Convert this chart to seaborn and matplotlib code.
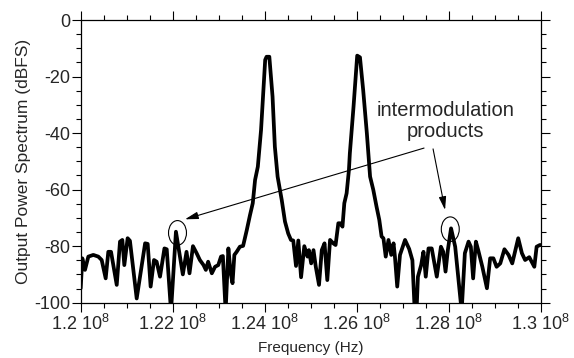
import matplotlib
matplotlib.use("Agg")
import matplotlib.pyplot as plt
import seaborn as sns
import numpy as np
import pandas as pd
from matplotlib.patches import Ellipse

# ---- data (frequency in MHz, power in dBFS) ----
freq_mhz = [
    120.000, 120.035, 120.093, 120.166, 120.274, 120.383, 120.456, 120.543, 120.600, 120.659,
    120.783, 120.854, 120.905, 120.948, 121.020, 121.070, 121.217, 121.400, 121.456, 121.520,
    121.593, 121.650, 121.724, 121.820, 121.870, 121.963, 122.070, 122.220, 122.300, 122.365,
    122.440, 122.520, 122.590, 122.670, 122.720, 122.770, 122.850, 122.920, 122.990, 123.050,
    123.090, 123.150, 123.210, 123.260, 123.300, 123.340, 123.390, 123.460, 123.530, 123.610,
    123.680, 123.740, 123.790, 123.850, 123.920, 124.010, 124.040, 124.100, 124.170, 124.220,
    124.280, 124.370, 124.440, 124.510, 124.570, 124.620, 124.680, 124.730, 124.790, 124.860,
    124.930, 124.960, 125.010, 125.060, 125.110, 125.180, 125.240, 125.300, 125.360, 125.420,
    125.490, 125.540, 125.600, 125.650, 125.690, 125.730, 125.780, 125.830, 125.850, 125.930,
    126.010, 126.070, 126.140, 126.220, 126.290, 126.360, 126.430, 126.490, 126.540, 126.580,
    126.630, 126.690, 126.750, 126.800, 126.830, 126.880, 126.940, 127.050, 127.140, 127.210,
    127.260, 127.300, 127.330, 127.400, 127.450, 127.500, 127.560, 127.630, 127.740, 127.830,
    127.880, 127.930, 127.980, 128.050, 128.140, 128.280, 128.350, 128.430, 128.480, 128.530,
    128.590, 128.640, 128.730, 128.830, 128.900, 128.970, 129.040, 129.120, 129.210, 129.300,
    129.380, 129.510, 129.590, 129.660, 129.750, 129.860, 129.910, 129.980, 130.000,
]
power_dbfs = [
    -94.9, -84.3, -88.4, -83.7, -83.1, -83.7, -84.9, -91.4, -82.0, -82.0,
    -93.7, -78.4, -77.8, -86.7, -77.2, -78.1, -98.5, -79.0, -79.2, -94.3,
    -84.9, -85.5, -90.8, -80.8, -81.1, -103.0, -74.9, -90.0, -82.0, -89.6,
    -80.0, -82.5, -84.9, -86.7, -88.4, -85.5, -89.6, -87.3, -86.7, -83.7,
    -83.5, -103.0, -80.8, -89.6, -93.1, -83.1, -82.0, -80.2, -79.9, -74.3,
    -69.0, -64.8, -56.6, -51.9, -38.9, -14.1, -13.0, -13.0, -27.1, -44.8,
    -55.4, -63.7, -71.3, -75.5, -77.8, -78.0, -87.0, -78.0, -91.0, -80.0,
    -83.7, -81.4, -86.1, -81.4, -87.3, -93.7, -81.4, -79.0, -92.0, -77.8,
    -79.0, -79.6, -71.9, -71.9, -73.1, -64.8, -61.3, -53.1, -47.2, -30.7,
    -12.6, -13.2, -24.8, -40.1, -55.4, -60.1, -66.0, -70.7, -76.6, -77.2,
    -83.7, -77.8, -83.1, -79.0, -83.7, -94.3, -83.1, -77.8, -81.0, -85.0,
    -103.0, -103.0, -90.8, -86.7, -82.0, -90.8, -80.8, -80.8, -90.8, -80.2,
    -82.0, -89.0, -81.4, -73.7, -80.2, -103.0, -82.5, -78.4, -80.2, -91.4,
    -78.4, -81.4, -87.3, -94.9, -84.3, -84.3, -87.3, -86.1, -81.1, -83.1,
    -86.1, -77.2, -82.5, -84.9, -83.9, -87.3, -80.2, -79.6, -79.6,
]

x_ticks_hz = [1.20e8, 1.22e8, 1.24e8, 1.26e8, 1.28e8, 1.30e8]
x_tick_labels = [r"1.2 10$^{8}$", r"1.22 10$^{8}$", r"1.24 10$^{8}$",
                 r"1.26 10$^{8}$", r"1.28 10$^{8}$", r"1.3 10$^{8}$"]
y_ticks = [-100, -80, -60, -40, -20, 0]
y_tick_labels = ["-100", "-80", "-60", "-40", "-20", "0"]

annotation_text = "intermodulation\nproducts"
imd_centers_hz = [1.22104e8, 1.28033e8]
imd_centers_db = [-75.3, -74.0]

df = pd.DataFrame({"freq": np.array(freq_mhz) * 1e6, "power": power_dbfs})

sns.set_style("ticks")
plt.rcParams["font.family"] = ["Liberation Sans", "DejaVu Sans"]
plt.rcParams["mathtext.fontset"] = "custom"
plt.rcParams["mathtext.rm"] = "Liberation Sans"
plt.rcParams["mathtext.it"] = "Liberation Sans"
plt.rcParams["axes.unicode_minus"] = False

fig = plt.figure(figsize=(5.74, 3.58), dpi=100)
ax = fig.add_axes([0.1406, 0.1545, 0.8015, 0.7896])

sns.lineplot(data=df, x="freq", y="power", color="black", linewidth=2.7,
             ax=ax, sort=False, estimator=None)

ax.set_xlim(1.2e8, 1.3e8)
ax.set_ylim(-100, 0)
ax.set_xticks(x_ticks_hz)
ax.set_xticklabels(x_tick_labels, fontsize=13)
ax.set_xticks(np.arange(1.2e8, 1.3e8 + 1, 5e5), minor=True)
ax.set_yticks(y_ticks)
ax.set_yticklabels(y_tick_labels, fontsize=13)
ax.set_yticks(np.arange(-100, 1, 5), minor=True)

ax.tick_params(which="both", direction="out", top=True, right=True,
               bottom=True, left=True, width=0.8, color="black")
ax.tick_params(which="major", length=6.5)
ax.tick_params(which="minor", length=3.6)
ax.tick_params(axis="x", which="major", pad=1.5)
ax.tick_params(axis="y", which="major", pad=1.0)
for s in ax.spines.values():
    s.set_visible(True)
    s.set_linewidth(0.9)
    s.set_color("black")

ax.set_xlabel("Frequency (Hz)", fontsize=11, labelpad=5)
ax.set_ylabel("Output Power Spectrum (dBFS)", fontsize=12.5, labelpad=2)

# annotation text and arrows
ax.text(1.2792e8, -35.6, annotation_text, ha="center", va="center",
        fontsize=14.5, linespacing=1.15)
arrow_kw = dict(arrowstyle="-|>,head_length=0.8,head_width=0.22",
                color="black", lw=0.8, shrinkA=0, shrinkB=0)
ax.annotate("", xy=(1.22267e8, -70.5), xytext=(1.27463e8, -45.3),
            arrowprops=arrow_kw)
ax.annotate("", xy=(1.2792e8, -67.2), xytext=(1.27659e8, -45.6),
            arrowprops=arrow_kw)

for cx, cy in zip(imd_centers_hz, imd_centers_db):
    ax.add_patch(Ellipse((cx, cy), width=0.39e6, height=8.7, fill=False,
                         edgecolor="black", lw=0.8))

fig.savefig("out.png", dpi=100)
